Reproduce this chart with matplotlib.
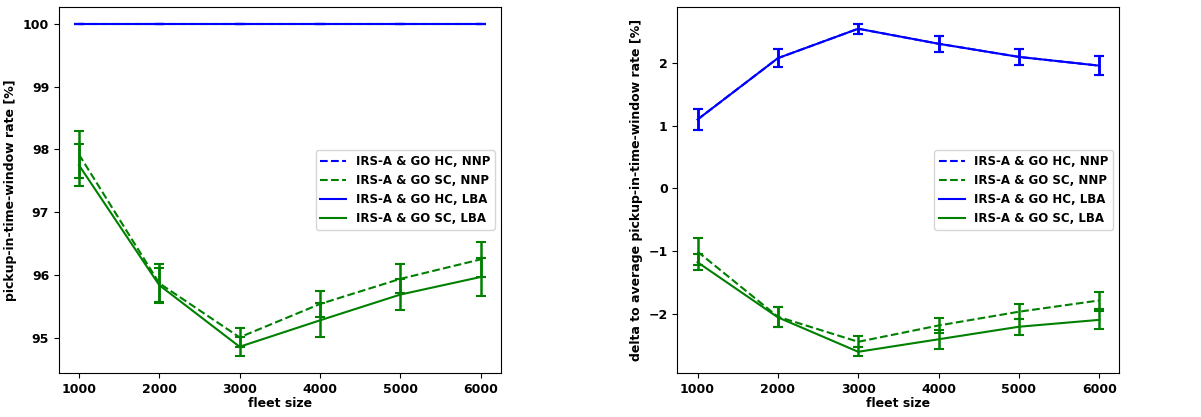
import numpy as np
import matplotlib.pyplot as plt

fleet = [1000, 2000, 3000, 4000, 5000, 6000]

# pickup-in-time-window rate [%]
hc_nnp_rate = [100.0, 100.0, 100.0, 100.0, 100.0, 100.0]
hc_nnp_rate_err = [0.0, 0.0, 0.0, 0.0, 0.0, 0.0]
sc_nnp_rate = [97.92, 95.87, 95.01, 95.54, 95.94, 96.25]
sc_nnp_rate_err = [0.37, 0.30, 0.15, 0.21, 0.23, 0.28]
hc_lba_rate = [100.0, 100.0, 100.0, 100.0, 100.0, 100.0]
hc_lba_rate_err = [0.0, 0.0, 0.0, 0.0, 0.0, 0.0]
sc_lba_rate = [97.75, 95.84, 94.86, 95.28, 95.69, 95.97]
sc_lba_rate_err = [0.33, 0.28, 0.15, 0.27, 0.25, 0.31]

# delta to average pickup-in-time-window rate [%]
hc_nnp_delta = [1.10, 2.08, 2.55, 2.31, 2.10, 1.96]
hc_nnp_delta_err = [0.17, 0.14, 0.08, 0.13, 0.13, 0.15]
sc_nnp_delta = [-1.01, -2.05, -2.45, -2.19, -1.97, -1.79]
sc_nnp_delta_err = [0.22, 0.16, 0.09, 0.12, 0.12, 0.14]
hc_lba_delta = [1.10, 2.08, 2.55, 2.31, 2.10, 1.96]
hc_lba_delta_err = [0.17, 0.14, 0.08, 0.13, 0.13, 0.15]
sc_lba_delta = [-1.18, -2.06, -2.61, -2.41, -2.21, -2.10]
sc_lba_delta_err = [0.13, 0.16, 0.07, 0.15, 0.13, 0.14]

labels = ['IRS-A & GO HC, NNP', 'IRS-A & GO SC, NNP',
          'IRS-A & GO HC, LBA', 'IRS-A & GO SC, LBA']

plt.rcParams['font.weight'] = 'bold'
plt.rcParams['axes.labelweight'] = 'bold'
plt.rcParams['font.size'] = 8.5
plt.rcParams['xtick.labelsize'] = 9
plt.rcParams['ytick.labelsize'] = 9


def draw(ax, series, ylabel):
    styles = [('blue', '--'), ('green', '--'), ('blue', '-'), ('green', '-')]
    for (y, e), (c, ls), lab in zip(series, styles, labels):
        ax.errorbar(fleet, y, yerr=e, fmt='none', ecolor=c,
                    elinewidth=1.8, capsize=3.5, capthick=1.5)
        ax.plot(fleet, y, color=c, linestyle=ls, linewidth=1.5, label=lab)
    ax.set_xlabel('fleet size', labelpad=1, fontsize=9)
    ax.set_ylabel(ylabel, fontsize=9)
    ax.set_xticks(fleet)
    ax.legend(loc='center right', handlelength=2.2)


fig, (ax1, ax2) = plt.subplots(1, 2, figsize=(12.01, 4.17), dpi=100)
fig.subplots_adjust(left=0.049, right=0.932, top=0.983, bottom=0.106, wspace=0.40)

draw(ax1, [(hc_nnp_rate, hc_nnp_rate_err), (sc_nnp_rate, sc_nnp_rate_err),
           (hc_lba_rate, hc_lba_rate_err), (sc_lba_rate, sc_lba_rate_err)],
     'pickup-in-time-window rate [%]')
draw(ax2, [(hc_nnp_delta, hc_nnp_delta_err), (sc_nnp_delta, sc_nnp_delta_err),
           (hc_lba_delta, hc_lba_delta_err), (sc_lba_delta, sc_lba_delta_err)],
     'delta to average pickup-in-time-window rate [%]')

plt.savefig('out.png')
